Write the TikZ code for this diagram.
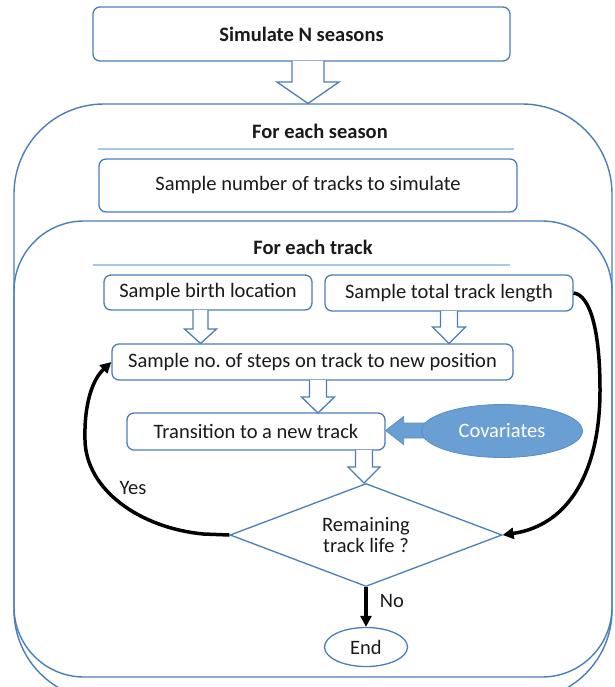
\documentclass[tikz,border=0pt]{standalone}
\usepackage{fontspec}
\setmainfont{Carlito}
\usetikzlibrary{shapes.geometric,arrows.meta,calc}
\definecolor{bl}{HTML}{4A7EBB}
\definecolor{lbl}{HTML}{A9C8E8}
\definecolor{cov}{HTML}{6A9FD3}
\definecolor{covdark}{HTML}{5A8EC4}
\definecolor{txt}{HTML}{1A1A1A}
\newcommand\fsz{\fontsize{20.5}{23}\selectfont}
\frenchspacing
\tikzset{
  box/.style={draw=bl, line width=1.3pt, rounded corners=7pt, fill=white, text=txt,
    font=\fsz, inner sep=0pt},
  frame/.style={draw=bl, line width=1.4pt},
  sepline/.style={draw=lbl, line width=1.4pt},
  hollow/.style={draw=bl, line width=1.3pt, fill=white, line join=miter},
  loop/.style={draw=black, line width=3.5pt, -{Triangle[length=11pt,width=11pt]}},
  lbltext/.style={text=txt, font=\fsz, inner sep=0pt},
  title/.style={text=txt, font=\bfseries\fsz, inner sep=0pt}
}
% hollow down arrow: center x, top y, head-start y, tip y, shaft half, head half
\newcommand\hdarrow[6]{%
  \path[hollow] (#1-#5,#2) -- (#1-#5,#3) -- (#1-#6,#3) -- (#1,#4) -- (#1+#6,#3)
    -- (#1+#5,#3) -- (#1+#5,#2);}
\begin{document}
\begin{tikzpicture}[x=1pt,y=-1pt]
\useasboundingbox (0,0) rectangle (614,687);
\begin{scope}
\clip (0,0) rectangle (614,687);
% frames
\path[frame, rounded corners=90pt] (14,104) rectangle (612,700);
\path[frame, rounded corners=70pt] (14,221) rectangle (612,677);
\end{scope}
% separator lines
\path[sepline] (98,149) -- (514,149);
\path[sepline] (93,265) -- (510,265);
% top box and titles
\node[box, font=\bfseries\fsz, minimum width=417pt, minimum height=54pt] (sim) at (301.5,34) {Simulate N seasons};
\node[title] (season) at (320,131) {For each season};
\node[title] (track) at (313,247) {For each track};
% boxes
\node[box, minimum width=418pt, minimum height=53pt] (ntr) at (308,185.5) {Sample number of tracks to simulate};
\node[box, minimum width=208pt, minimum height=35pt] (birth) at (208,292.5) {Sample birth location};
\node[box, minimum width=248pt, minimum height=36pt] (len) at (449,293) {Sample total track length};
\node[box, minimum width=401pt, minimum height=36pt] (steps) at (312.5,362) {Sample no. of steps on track to new position};
\node[box, minimum width=258pt, minimum height=37pt] (trans) at (256,431.5) {Transition to a new track};
\node[draw=bl, line width=1.3pt, diamond, aspect=2.64, minimum width=272pt, minimum height=103pt, inner sep=0pt, align=center, lbltext] (dia) at (366,535) {Remaining\\[-2pt]track life ?};
\node[draw=bl, line width=1.3pt, ellipse, minimum width=83pt, minimum height=39pt, inner sep=0pt, lbltext] (end) at (366,647) {End};
% covariates block arrow and ellipse
\path[fill=cov, draw=covdark, line width=0.8pt, line join=miter] (trans.east) ++(0,-1) -- ++(18,-14) -- ++(0,6.5) -- ++(24,0) -- ++(0,15) -- ++(-24,0) -- ++(0,6.5) -- cycle;
\node[ellipse, fill=cov, draw=covdark, line width=0.8pt, minimum width=161pt, minimum height=53pt, inner sep=0pt, text=white, font=\fsz] (cov) at (502,431) {Covariates};
% hollow arrows
\hdarrow{308}{61}{82}{103.5}{16}{31}
\hdarrow{200.5}{310}{329}{343.5}{7.5}{16}
\hdarrow{449}{311}{327}{343.5}{8.5}{16.5}
\hdarrow{318}{380}{397}{413}{8.5}{16.5}
\hdarrow{364}{450}{467}{483}{8.5}{16}
% loops
\draw[loop] (dia.west) -- ++(-26,-1) .. controls (140,528) and (86,490) .. (85,440) .. controls (84,405) and (92,380) .. (steps.west);
\draw[loop] (len.east) .. controls (590,295) and (600,330) .. (600,390) .. controls (600,470) and (570,525) .. (dia.east);
\draw[loop] (dia.south) -- (end.north);
% labels
\node[lbltext] (yes) at (133,488) {Yes};
\node[lbltext] (no) at (392,601) {No};
\end{tikzpicture}
\end{document}
